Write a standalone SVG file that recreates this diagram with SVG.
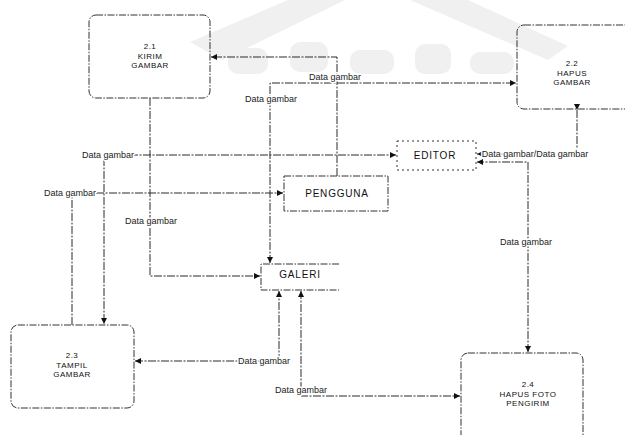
<svg xmlns="http://www.w3.org/2000/svg" width="625" height="435" viewBox="0 0 625 435">
<defs>
<style>
.wm{fill:#f0f0f0;stroke:none}
.box{fill:none;stroke:#333;stroke-width:1;stroke-dasharray:7,1.5,1.5,1.5}
.ln{fill:none;stroke:#2a2a2a;stroke-width:1;stroke-dasharray:8,1.5,2,1.5}
.nt{font-family:"Liberation Sans",Arial,sans-serif;font-size:8px;fill:#111;text-anchor:middle;letter-spacing:0.5px}
.et{font-family:"Liberation Sans",Arial,sans-serif;font-size:10px;fill:#111;text-anchor:middle;letter-spacing:0.8px}
.lbl{font-family:"Liberation Sans",Arial,sans-serif;font-size:9px;fill:#222;text-anchor:middle;stroke:#fff;stroke-width:3px;paint-order:stroke;stroke-linejoin:round}
</style>
<marker id="a" viewBox="0 0 10 10" refX="10" refY="5" markerWidth="7" markerHeight="6" markerUnits="userSpaceOnUse" orient="auto"><path d="M0,0L10,5L0,10z" fill="#111"/></marker>
<marker id="ar" viewBox="0 0 10 10" refX="10" refY="5" markerWidth="7" markerHeight="6" markerUnits="userSpaceOnUse" orient="auto-start-reverse"><path d="M0,0L10,5L0,10z" fill="#111"/></marker>
</defs>
<rect width="625" height="435" fill="#fff"/>
<g id="watermark">
<polygon class="wm" points="190,42 288,0 345,0 222,60"/>
<polygon class="wm" points="410,0 468,0 568,46 548,60"/>
<rect class="wm" x="228" y="48" width="40" height="26" rx="10"/>
<rect class="wm" x="290" y="42" width="38" height="30" rx="10"/>
<rect class="wm" x="350" y="50" width="44" height="24" rx="10"/>
<rect class="wm" x="415" y="44" width="36" height="30" rx="10"/>
<rect class="wm" x="470" y="52" width="44" height="22" rx="10"/>
</g>
<g id="connectors">
<path class="ln" d="M337,176V57H211" marker-end="url(#a)"/>
<path class="ln" d="M270,263V83H516" marker-start="url(#ar)" marker-end="url(#a)"/>
<path class="ln" d="M150,98V276H260" marker-end="url(#a)"/>
<path class="ln" d="M104,158V324" marker-end="url(#a)"/>
<path class="ln" d="M104,155H396" marker-end="url(#a)"/>
<path class="ln" d="M72,325V193H283" marker-end="url(#a)"/>
<path class="ln" d="M135,361H279V291" marker-start="url(#ar)" marker-end="url(#a)"/>
<path class="ln" d="M301,291V396H460" marker-start="url(#ar)" marker-end="url(#a)"/>
<path class="ln" d="M577,110V154H477" marker-start="url(#a)" marker-end="url(#a)"/>
<path class="ln" d="M528,352V162H477" marker-start="url(#ar)" marker-end="url(#a)"/>
<text class="lbl" x="335" y="80">Data gambar</text>
<text class="lbl" x="271" y="102">Data gambar</text>
<text class="lbl" x="108" y="158">Data gambar</text>
<text class="lbl" x="70" y="196">Data gambar</text>
<text class="lbl" x="151" y="224">Data gambar</text>
<text class="lbl" x="264" y="364">Data gambar</text>
<text class="lbl" x="301" y="393">Data gambar</text>
<text class="lbl" x="526" y="245">Data gambar</text>
<text class="lbl" x="535" y="157">Data gambar/Data gambar</text>
</g>
<g id="kirim-gambar">
<rect class="box" x="89" y="15" width="121" height="83" rx="7"/>
<text class="nt" x="150" y="49">2.1</text>
<text class="nt" x="150" y="58.5">KIRIM</text>
<text class="nt" x="150" y="68">GAMBAR</text>
</g>
<g id="hapus-gambar">
<rect class="box" x="517" y="25" width="125" height="84" rx="7"/>
<text class="nt" x="572" y="66">2.2</text>
<text class="nt" x="572" y="75.5">HAPUS</text>
<text class="nt" x="572" y="85">GAMBAR</text>
</g>
<g id="editor">
<rect class="box" x="397" y="141" width="79" height="29" style="stroke-dasharray:2,3"/>
<text class="et" x="435" y="159">EDITOR</text>
</g>
<g id="pengguna">
<rect class="box" x="284" y="176" width="104" height="35"/>
<text class="et" x="337" y="197">PENGGUNA</text>
</g>
<g id="galeri">
<path class="box" d="M339,264H261V290H339"/>
<text class="et" x="300" y="278">GALERI</text>
</g>
<g id="tampil-gambar">
<rect class="box" x="11" y="325" width="123" height="83" rx="7"/>
<text class="nt" x="72" y="358">2.3</text>
<text class="nt" x="72" y="367.5">TAMPIL</text>
<text class="nt" x="72" y="377">GAMBAR</text>
</g>
<g id="hapus-foto-pengirim">
<rect class="box" x="461" y="353" width="122" height="95" rx="7"/>
<text class="nt" x="528" y="387">2.4</text>
<text class="nt" x="528" y="396.5">HAPUS FOTO</text>
<text class="nt" x="528" y="406">PENGIRIM</text>
</g>
</svg>
